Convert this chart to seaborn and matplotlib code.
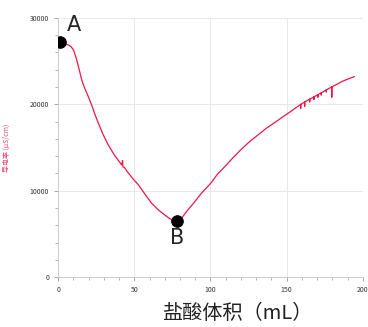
import matplotlib
matplotlib.use("Agg")
import matplotlib.pyplot as plt
import seaborn as sns
import pandas as pd
from matplotlib.ticker import MultipleLocator

# titration curve (mL of HCl vs conductivity)
volume = [1, 4, 6.8, 8.5, 10, 11, 12.2, 13.8, 15.5, 17.5, 19.8, 22, 24.2, 26.4, 29.5, 32.9, 37, 41.7,
          42.3, 42.5, 43.5, 45, 49, 52.6, 57, 61.4, 66, 70, 73, 75.5, 77, 78.5, 81, 84.3, 89.7, 94,
          100.2, 104.5, 109.4, 115, 120.3, 125.5, 131.2, 136.5, 142.1, 148, 154.1, 158.5,
          159.2, 159.21, 159.22, 161.8, 161.81, 161.82, 165.1, 165.11, 165.12, 167.9, 167.91, 167.92,
          170.5, 170.51, 170.52, 172.7, 172.71, 172.72, 176, 176.01, 176.02, 179.6, 179.61, 179.62,
          183, 186, 190, 194.5]
conductivity = [27100, 26950, 26850, 26650, 26280, 25800, 25120, 24000, 22800, 21800, 20880, 19900, 18800,
                17800, 16500, 15290, 14100, 12980, 13500, 12750, 12700, 12300, 11400, 10700, 9600, 8550,
                7750, 7200, 6800, 6600, 6450, 6500, 6820, 7600, 8740, 9700, 10870, 11900, 12790, 13850,
                14800, 15650, 16450, 17200, 17870, 18600, 19340, 19900,
                19980, 19500, 19980, 20250, 19750, 20250, 20580, 20250, 20580, 20850, 20550, 20850,
                21100, 20800, 21100, 21320, 21050, 21320, 21650, 21400, 21650, 22000, 20800, 22000,
                22300, 22600, 22900, 23190]
points_x = [1, 78]
points_y = [27150, 6500]
point_labels = ["A", "B"]

df = pd.DataFrame({"volume": volume, "conductivity": conductivity})

sns.set_style("white")
plt.rcParams["font.family"] = ["Noto Sans CJK SC", "DejaVu Sans"]

fig = plt.figure(figsize=(3.68, 3.27), dpi=100)
ax = fig.add_axes([0.158, 0.152, 0.828, 0.794])

sns.lineplot(data=df, x="volume", y="conductivity", color="#e8174a", linewidth=0.9, ax=ax,
             estimator=None, sort=False)
sns.scatterplot(x=points_x, y=points_y, color="black", s=70, ax=ax, zorder=5, edgecolor="black")
ax.text(points_x[0] + 4.5, 28000, point_labels[0], fontsize=15, ha="left", va="bottom", family=["DejaVu Sans"])
ax.text(points_x[1], 5700, point_labels[1], fontsize=15, ha="center", va="top", family=["DejaVu Sans"])

ax.set_xlim(0, 200)
ax.set_ylim(0, 30000)
ax.xaxis.set_major_locator(MultipleLocator(50))
ax.xaxis.set_minor_locator(MultipleLocator(10))
ax.yaxis.set_major_locator(MultipleLocator(10000))
ax.yaxis.set_minor_locator(MultipleLocator(2000))
ax.grid(True, which="major", color="#e8e8e8", linewidth=0.7)
ax.tick_params(which="both", direction="out", colors="#999999", labelcolor="#333333", labelsize=5)
ax.tick_params(which="major", length=3, width=0.6)
ax.tick_params(which="minor", length=2, width=0.5)
ax.tick_params(axis="x", which="both", bottom=True)
ax.tick_params(axis="y", which="both", left=True)
for side in ["top", "right"]:
    ax.spines[side].set_visible(False)
for side in ["left", "bottom"]:
    ax.spines[side].set_color("#cccccc")
    ax.spines[side].set_linewidth(0.7)
ax.set_xlabel("")
ax.set_ylabel("导电率 (μS/cm)", color="#ea4a70", fontsize=5, labelpad=14)

fig.text(0.647, 0.04, "盐酸体积（mL）", fontsize=14.5, ha="center", va="center", color="#222222")

fig.savefig("out.png", dpi=100)
